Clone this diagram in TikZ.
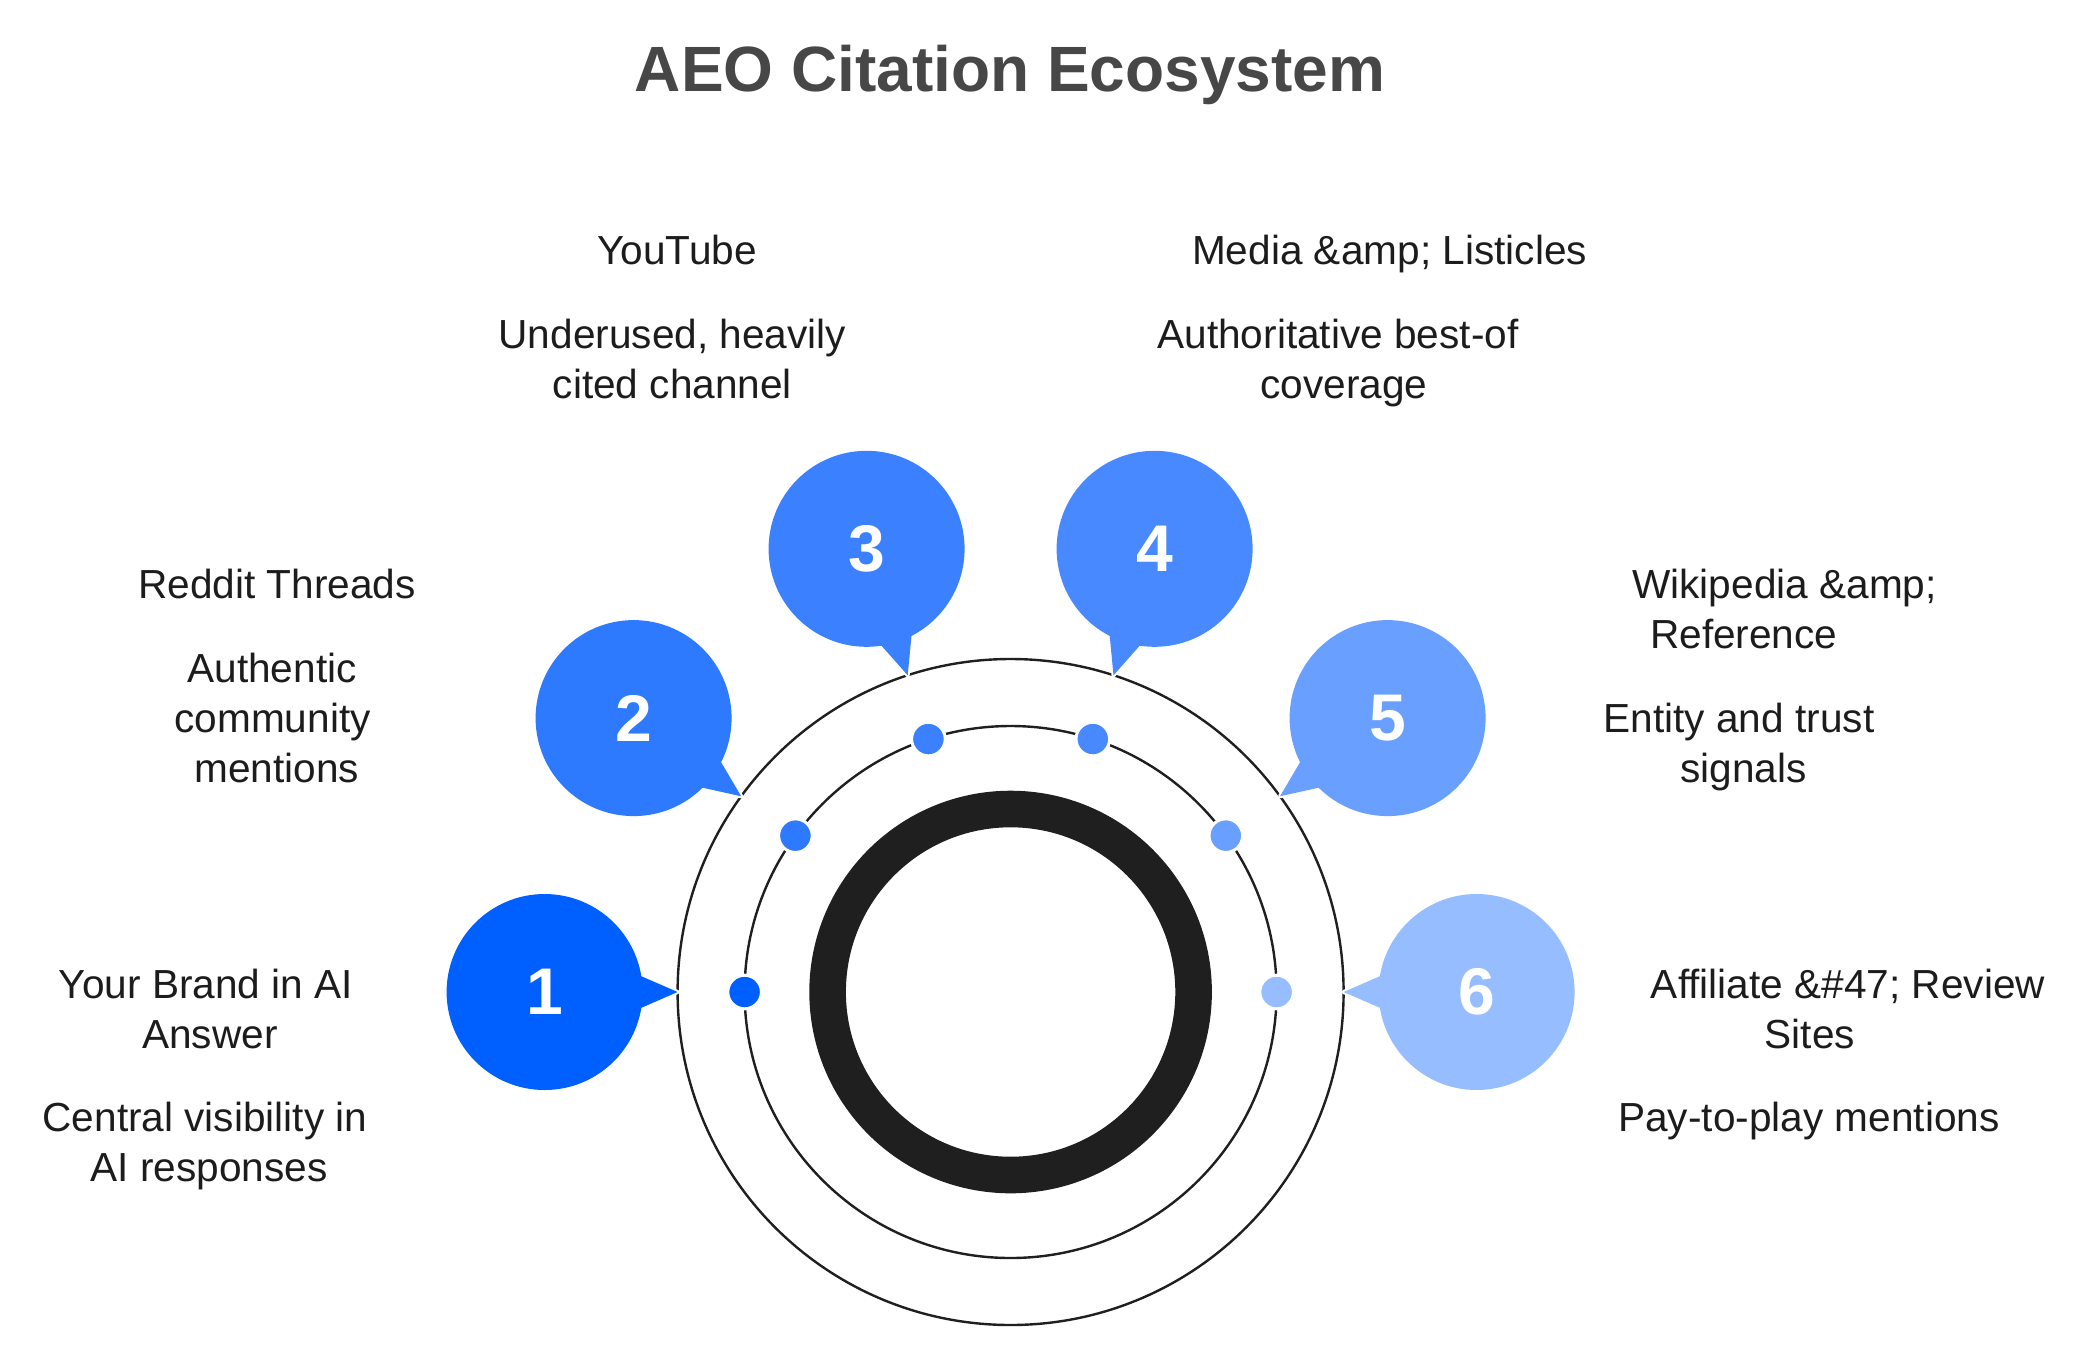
\documentclass[tikz,border=0pt]{standalone}
\usepackage{fontspec}
\setmainfont{Liberation Sans}
\usetikzlibrary{calc}

\definecolor{blueA}{RGB}{0,95,255}
\definecolor{blueB}{RGB}{45,122,255}
\definecolor{blueC}{RGB}{58,128,255}
\definecolor{blueD}{RGB}{72,137,255}
\definecolor{blueE}{RGB}{105,159,255}
\definecolor{blueF}{RGB}{150,189,255}
\definecolor{ink}{RGB}{28,28,28}
\definecolor{titlegray}{RGB}{71,71,71}
\definecolor{ringblack}{RGB}{31,31,31}

\begin{document}
\begin{tikzpicture}[x=.5pt,y=-.5pt,line cap=round,line join=round,
  txt/.style={font=\fontsize{20.3}{24}\selectfont,text=ink,anchor=base,inner sep=0pt},
  num/.style={font=\fontsize{33}{36}\selectfont\bfseries,text=white},
  pip/.style={circle,fill=#1,draw=white,line width=1.5pt,minimum size=16.8pt,inner sep=0pt},
  orbit/.style={draw=ringblack,line width=1.2pt}]

\useasboundingbox (0,0) rectangle (2090,1367);
\coordinate (C) at (1010.6,992);

\node[font=\fontsize{32}{36}\selectfont\bfseries,text=titlegray,anchor=base,inner sep=0pt]
  (title) at (1010,91.7) {AEO Citation Ecosystem};

% Orbits and the heavy core ring.
\draw[orbit] (C) circle (333);
\draw[orbit] (C) circle (266);
\draw[ringblack,line width=18.3pt] (C) circle (183);

% Speech bubbles pointing at the outer orbit, one dot each on the middle orbit.
\foreach \i/\a/\c in {1/-180/blueA,2/-144/blueB,3/-108/blueC,4/-72/blueD,5/-36/blueE,6/0/blueF}
{
  \coordinate (b\i) at ($(C)+(\a:466)$);
  \coordinate (t\i) at ($(C)+(\a:333)$);
  \draw[white,line width=2pt] (b\i) circle (98);
  \draw[white,line width=2pt] (t\i) -- ($(b\i)+({\a+90}:57.8)$) -- ($(b\i)+({\a-90}:57.8)$) -- cycle;
  \fill[\c] (b\i) circle (98);
  \fill[\c] (t\i) -- ($(b\i)+({\a+90}:57.8)$) -- ($(b\i)+({\a-90}:57.8)$) -- cycle;
  \node[num] (n\i) at (b\i) {\i};
  \node[pip=\c] (d\i) at ($(C)+(\a:266)$) {};
}

% Labels, line by line.
\node[txt] (l1a) at (206,998) {Your Brand in AI};
\node[txt] (l1b) at (210,1048) {Answer};
\node[txt] (l1c) at (205,1131.7) {Central visibility in};
\node[txt] (l1d) at (209,1181.7) {AI responses};

\node[txt] (l2a) at (277,598) {Reddit Threads};
\node[txt] (l2b) at (272,682) {Authentic};
\node[txt] (l2c) at (272.6,732.5) {community};
\node[txt] (l2d) at (276.6,782) {mentions};

\node[txt] (l3a) at (677,264.6) {YouTube};
\node[txt] (l3b) at (672.4,348.6) {Underused, heavily};
\node[txt] (l3c) at (672.4,398) {cited channel};

\node[txt] (l4a) at (1389.6,264.6) {Media \&amp; Listicles};
\node[txt] (l4b) at (1338,348.6) {Authoritative best-of};
\node[txt] (l4c) at (1344,398) {coverage};

\node[txt] (l5a) at (1784.5,598) {Wikipedia \&amp;};
\node[txt] (l5b) at (1743.8,648) {Reference};
\node[txt] (l5c) at (1739,732) {Entity and trust};
\node[txt] (l5d) at (1743.6,782) {signals};

\node[txt] (l6a) at (1848,998) {Affiliate \&\#47; Review};
\node[txt] (l6b) at (1810,1048) {Sites};
\node[txt] (l6c) at (1809,1131.7) {Pay-to-play mentions};
\end{tikzpicture}
\end{document}
